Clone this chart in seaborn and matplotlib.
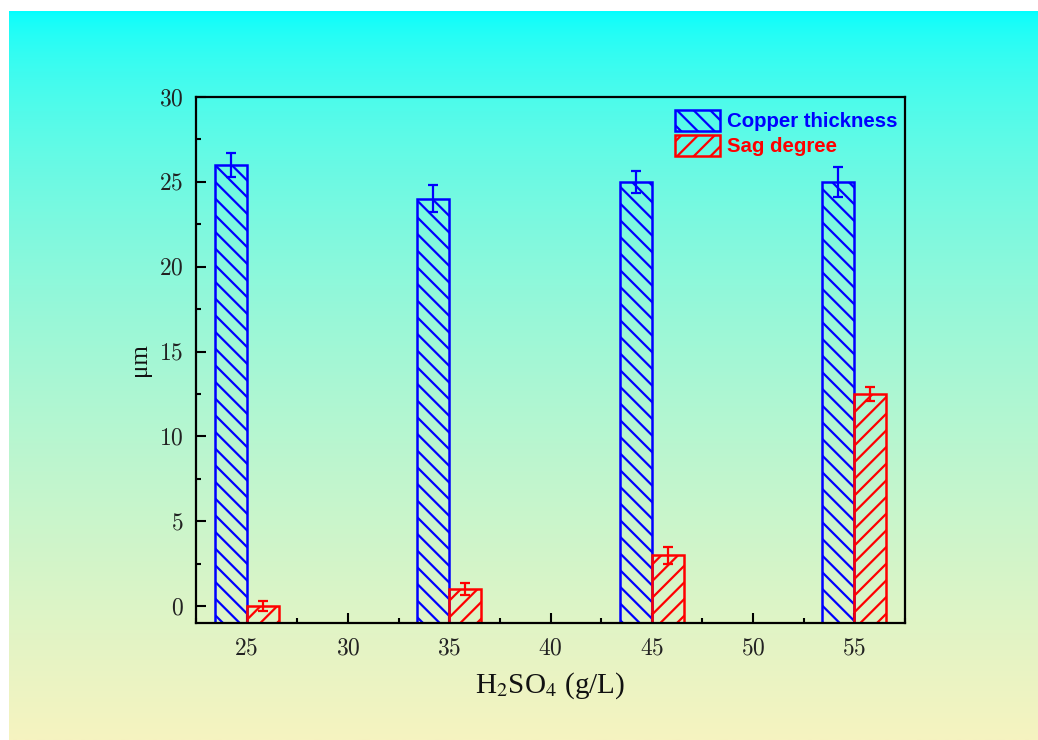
import numpy as np
import pandas as pd
import matplotlib
matplotlib.use("Agg")
import matplotlib.pyplot as plt
from matplotlib.patches import Patch
from matplotlib.ticker import MultipleLocator, FuncFormatter
import seaborn as sns

# ---- data ----
concentrations = [25, 35, 45, 55]
copper_thickness = [26.0, 24.0, 25.0, 25.0]
copper_err = [0.7, 0.8, 0.65, 0.9]
sag_degree = [0.0, 1.0, 3.0, 12.5]
sag_err = [0.3, 0.35, 0.5, 0.4]
series_names = ["Copper thickness", "Sag degree"]
series_colors = ["#0000FF", "#FF0000"]
series_hatches = ["\\\\", "//"]
x_ticks = [25, 30, 35, 40, 45, 50, 55]
y_ticks = [0, 5, 10, 15, 20, 25, 30]

df = pd.DataFrame({
    "H2SO4": concentrations * 2,
    "value": copper_thickness + sag_degree,
    "series": [series_names[0]] * 4 + [series_names[1]] * 4,
})
errors = [copper_err, sag_err]
values = [copper_thickness, sag_degree]

sns.set_style("ticks")
plt.rcParams["mathtext.fontset"] = "cm"
plt.rcParams["hatch.linewidth"] = 1.6
plt.rcParams["font.family"] = ["Liberation Serif", "DejaVu Serif"]

W, H = 1038, 740
fig = plt.figure(figsize=(W / 100, H / 100), dpi=100)
fig.patch.set_facecolor("white")

# background gradient
bg = fig.add_axes([9 / W, 0, 1 - 9 / W, (H - 11) / H], zorder=-10)
bg.set_axis_off()
top = np.array([0, 255, 255]) / 255
bot = np.array([246, 243, 192]) / 255
f = np.linspace(0, 1, 400) ** 0.55
grad = top[None, :] + f[:, None] * (bot - top)[None, :]
bg.imshow(grad[:, None, :], aspect="auto", extent=[0, 1, 0, 1])

ax = fig.add_axes([196 / W, (H - 623) / H, (905 - 196) / W, (623 - 97) / H])
ax.set_facecolor("none")

ymin, ymax = -1, 30
sns.barplot(data=df, x="H2SO4", y="value", hue="series", native_scale=True,
            width=0.315, gap=0, dodge=True, fill=False, linewidth=1.8,
            palette=series_colors, errorbar=None, legend=False, ax=ax)

for cont, col, hat, err, val in zip(ax.containers, series_colors, series_hatches, errors, values):
    xs = []
    for p in cont.patches:
        h = p.get_height()
        p.set_y(ymin)
        p.set_height(h - ymin)
        p.set_hatch(hat)
        p.set_facecolor("none")
        p.set_edgecolor(col)
        p.set_linewidth(1.8)
        xs.append(p.get_x() + p.get_width() / 2)
    ax.errorbar(xs, val, yerr=err, fmt="none", ecolor=col, elinewidth=1.6,
                capsize=3.6, capthick=1.6, zorder=5)

ax.set_xlim(22.5, 57.5)
ax.set_ylim(ymin, ymax)
ax.set_xticks(x_ticks)
ax.set_yticks(y_ticks)
ax.xaxis.set_minor_locator(MultipleLocator(2.5))
ax.yaxis.set_minor_locator(MultipleLocator(2.5))
fmt = FuncFormatter(lambda v, pos: r"$%d$" % round(v))
ax.xaxis.set_major_formatter(fmt)
ax.yaxis.set_major_formatter(fmt)
ax.tick_params(which="both", direction="in", top=False, right=False, color="black",
               labelcolor="#222222")
ax.tick_params(which="major", length=7, width=1.5, labelsize=17)
ax.tick_params(axis="x", which="major", pad=11)
ax.tick_params(axis="y", which="major", pad=9)
ax.tick_params(which="minor", length=3.5, width=1.5)
for s in ax.spines.values():
    s.set_visible(True)
    s.set_color("black")
    s.set_linewidth(1.6)
    s.set_zorder(6)

ax.set_xlabel(r"H$_2$SO$_4$ (g/L)", fontsize=21, labelpad=8,
              math_fontfamily="stix", color="#111111")
ax.set_ylabel("μm", fontsize=18, labelpad=6, color="#111111")

handles = [Patch(facecolor="none", edgecolor=c, hatch=h, linewidth=1.8)
           for c, h in zip(series_colors, series_hatches)]
leg = ax.legend(handles, series_names, loc="upper right", bbox_to_anchor=(1.008, 1.0),
                frameon=False,
                prop={"family": "Liberation Sans", "weight": "bold", "size": 14.7},
                handlelength=2.2, handleheight=1.15, handletextpad=0.35,
                labelspacing=0.2, borderaxespad=0.35, borderpad=0.3)
for t, c in zip(leg.get_texts(), series_colors):
    t.set_color(c)

fig.savefig("out.png", dpi=100, facecolor=fig.get_facecolor())
